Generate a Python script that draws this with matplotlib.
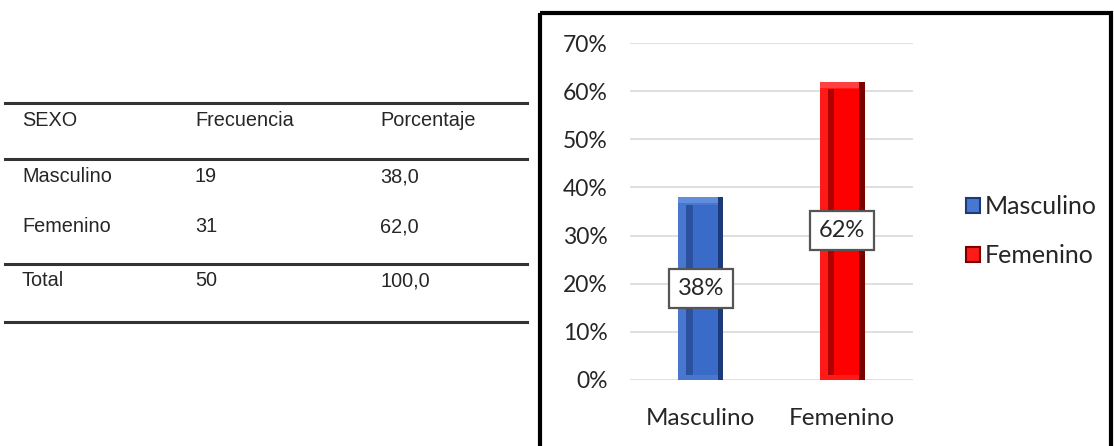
import matplotlib
matplotlib.use("Agg")
import matplotlib.pyplot as plt
from matplotlib.patches import Rectangle
from matplotlib.lines import Line2D

# Data
categories = ["Masculino", "Femenino"]
frecuencia = [19, 31]
porcentaje = [38.0, 62.0]
total_frec = 50
total_pct = 100.0
table_header = ["SEXO", "Frecuencia", "Porcentaje"]
yticks = [0, 10, 20, 30, 40, 50, 60, 70]

# bevel palette: rim, dark edge, inner face, inner shadow, top highlight
bar_main = ["#4777cf", "#ff1a1a"]
bar_dark = ["#1d3a78", "#7a0000"]
bar_face = ["#3b6bc8", "#ff0000"]
bar_shadow = ["#2a509e", "#b00000"]
bar_high = ["#628ddc", "#ff4040"]

W, H = 1114, 446
fig = plt.figure(figsize=(W / 100, H / 100), dpi=100)
fig.patch.set_facecolor("white")

chart_font = ["Lato", "DejaVu Sans"]
table_font = ["Liberation Sans Narrow", "Liberation Sans", "DejaVu Sans"]
txt_color = "#262626"

# ---- Table on the left (pixel coordinate overlay) ----
tax = fig.add_axes([0, 0, 1, 1])
tax.set_xlim(0, W)
tax.set_ylim(H, 0)
tax.axis("off")

line_kw = dict(color="#333333", lw=2.2)
for y in [103, 159, 264, 322]:
    tax.add_line(Line2D([5, 527], [y, y], **line_kw))

col_x = [22, 195, 380]
fs_table = 14.3
tkw = dict(fontsize=fs_table, family=table_font, va="center", ha="left", color=txt_color)
for cx, txt in zip(col_x, table_header):
    tax.text(cx, 120, txt, **tkw)
rows_y = [177, 227]
for y, cat, f, p in zip(rows_y, categories, frecuencia, porcentaje):
    tax.text(col_x[0], y, cat, **tkw)
    tax.text(col_x[1], y, f"{f}", **tkw)
    tax.text(col_x[2], y, f"{p:.1f}".replace(".", ","), **tkw)
tax.text(col_x[0], 281, "Total", **tkw)
tax.text(col_x[1], 281, f"{total_frec}", **tkw)
tax.text(col_x[2], 281, f"{total_pct:.1f}".replace(".", ","), **tkw)

# Chart frame
tax.add_patch(Rectangle((540, 13), 571, 440, fill=False, edgecolor="black", lw=3))

# ---- Bar chart ----
ax = fig.add_axes([630 / W, 1 - 380 / H, 283 / W, (380 - 43) / H])
x = list(range(len(categories)))
vals = [p / 100 for p in porcentaje]
w = 0.32
bev = 0.0125  # bevel thickness in data units (vertical)

for xi, v, m, d, fc, sh, hi in zip(x, vals, bar_main, bar_dark, bar_face, bar_shadow, bar_high):
    ax.bar(xi, v, width=w, color=m, zorder=2)
    # top highlight strip
    ax.bar(xi, bev, bottom=v - bev, width=w, color=hi, zorder=2.1)
    # dark right rim
    ax.bar(xi + w * 0.44, v, width=w * 0.12, color=d, zorder=2.2)
    # inner face
    ax.bar(xi + w * 0.03, v - 2.2 * bev, bottom=bev * 0.9, width=w * 0.68, color=fc, zorder=2.3)
    # inner left shadow
    ax.bar(xi - w * 0.25, v - 2.2 * bev, bottom=bev * 0.9, width=w * 0.14, color=sh, zorder=2.4)

for xi, v, p in zip(x, vals, porcentaje):
    ax.text(xi, v / 2, f"{p:.0f}%", ha="center", va="center", fontsize=17, family=chart_font,
            color=txt_color, zorder=6,
            bbox=dict(boxstyle="square,pad=0.38", facecolor="white", edgecolor="#555555", lw=1.6))

ax.set_xlim(-0.5, 1.5)
ax.set_ylim(0, 0.70)
ax.set_yticks([t / 100 for t in yticks])
ax.set_yticklabels([f"{t}%" for t in yticks], family=chart_font, fontsize=16.5, color=txt_color)
ax.set_xticks(x)
ax.set_xticklabels(categories, family=chart_font, fontsize=17.5, color=txt_color)
ax.tick_params(axis="y", length=0, pad=16)
ax.tick_params(axis="x", length=0, pad=20)
ax.yaxis.grid(True, color="#d9d9d9", lw=1.2, zorder=0)
ax.set_axisbelow(True)
for s in ax.spines.values():
    s.set_visible(False)

handles = [Rectangle((0, 0), 1, 1, facecolor=c, edgecolor=d, lw=1.5) for c, d in zip(bar_main, bar_dark)]
fig.legend(handles, categories, loc="center left", bbox_to_anchor=(956 / W, 1 - 231 / H),
           frameon=False, prop={"family": chart_font, "size": 18}, handlelength=0.55, handleheight=0.55,
           handletextpad=0.2, labelspacing=1.05, labelcolor=txt_color, borderaxespad=0)

fig.savefig("out.png", dpi=100, facecolor="white")
